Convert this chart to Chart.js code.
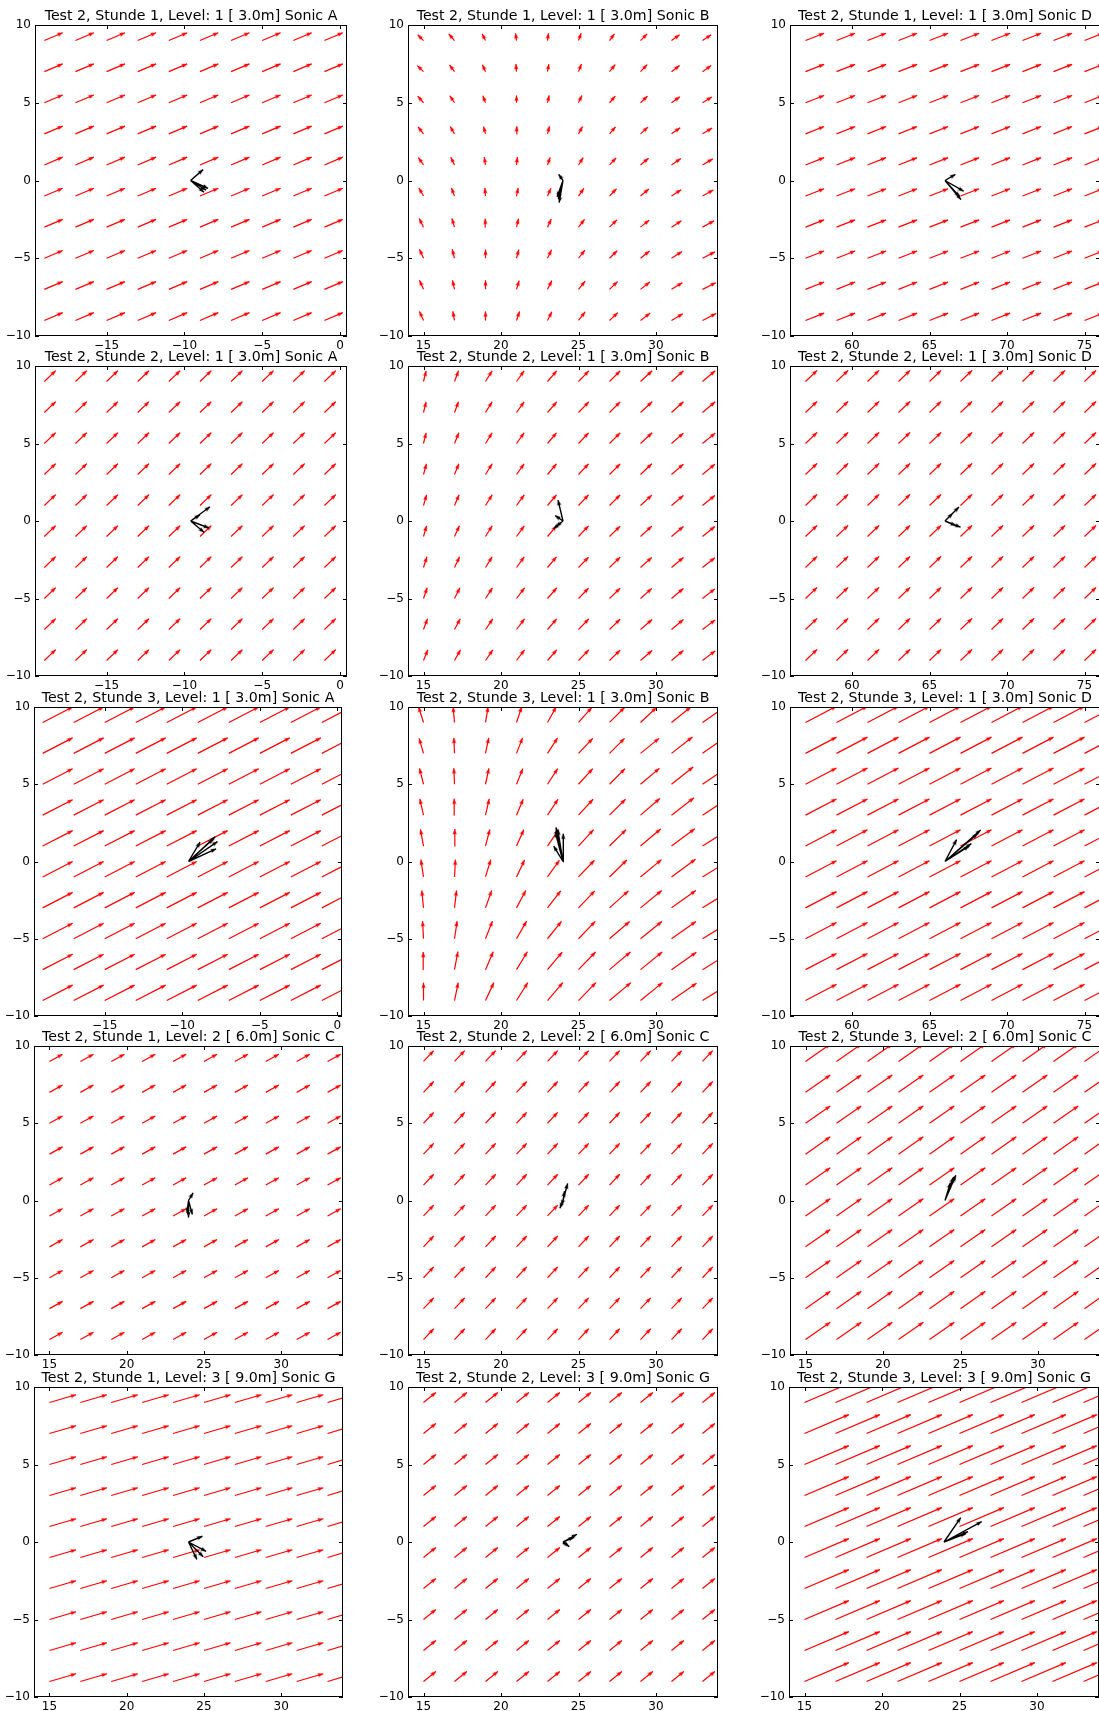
<!DOCTYPE html>
<html>
<head>
<meta charset="utf-8">
<title>Test 2 - Windfeld Sonics</title>
<script src="https://cdn.jsdelivr.net/npm/chart.js@4.4.1/dist/chart.umd.min.js"></script>
<style>
  html, body { margin: 0; padding: 0; background: #fff; overflow: hidden; width: 1099px; height: 1711px; }
  .panel { position: absolute; }
</style>
</head>
<body>
<script>
// titles, row by row
const titles = [
  'Test 2, Stunde 1, Level: 1 [ 3.0m] Sonic A', 'Test 2, Stunde 1, Level: 1 [ 3.0m] Sonic B', 'Test 2, Stunde 1, Level: 1 [ 3.0m] Sonic D',
  'Test 2, Stunde 2, Level: 1 [ 3.0m] Sonic A', 'Test 2, Stunde 2, Level: 1 [ 3.0m] Sonic B', 'Test 2, Stunde 2, Level: 1 [ 3.0m] Sonic D',
  'Test 2, Stunde 3, Level: 1 [ 3.0m] Sonic A', 'Test 2, Stunde 3, Level: 1 [ 3.0m] Sonic B', 'Test 2, Stunde 3, Level: 1 [ 3.0m] Sonic D',
  'Test 2, Stunde 1, Level: 2 [ 6.0m] Sonic C', 'Test 2, Stunde 2, Level: 2 [ 6.0m] Sonic C', 'Test 2, Stunde 3, Level: 2 [ 6.0m] Sonic C',
  'Test 2, Stunde 1, Level: 3 [ 9.0m] Sonic G', 'Test 2, Stunde 2, Level: 3 [ 9.0m] Sonic G', 'Test 2, Stunde 3, Level: 3 [ 9.0m] Sonic G'
];

// tick labels
const ticksY = [-10, -5, 0, 5, 10];
const ticksA = [-15, -10, -5, 0];
const ticksB = [15, 20, 25, 30];
const ticksD = [60, 65, 70, 75];

// grid points of the red field
const gridY = [-9, -7, -5, -3, -1, 1, 3, 5, 7, 9];
const gridXA = [-19, -17, -15, -13, -11, -9, -7, -5, -3, -1];
const gridXB = [15, 17, 19, 21, 23, 25, 27, 29, 31, 33];
const gridXD = [57, 59, 61, 63, 65, 67, 69, 71, 73, 75];

// sonic positions (x, at y = 0)
const sonicXA = -9.6;
const sonicXB = 24;
const sonicXD = 66;

// uniform red fields, Stunde 1..3
const fieldU_A = [1.18, 0.73, 1.93];
const fieldV_A = [0.50, 0.70, 1.00];
const fieldU_D = [1.20, 0.75, 2.00];
const fieldV_D = [0.47, 0.72, 1.05];
const fieldU_C = [0.85, 0.66, 1.60];
const fieldV_C = [0.47, 0.70, 1.12];
const fieldU_G = [1.72, 0.80, 2.86];
const fieldV_G = [0.50, 0.65, 1.22];

// Sonic B fields, one row per grid y (from -9 up to 9)
const fieldU_B1 = [
  [-0.26, -0.11, 0.00, 0.20, 0.28, 0.43, 0.54, 0.62, 0.73, 0.88],
  [-0.26, -0.13, 0.00, 0.17, 0.28, 0.43, 0.52, 0.60, 0.70, 0.86],
  [-0.26, -0.15, 0.00, 0.15, 0.26, 0.41, 0.50, 0.58, 0.68, 0.80],
  [-0.28, -0.17, -0.02, 0.13, 0.24, 0.39, 0.48, 0.56, 0.64, 0.75],
  [-0.30, -0.20, -0.04, 0.11, 0.22, 0.35, 0.45, 0.54, 0.62, 0.70],
  [-0.33, -0.24, -0.08, 0.06, 0.17, 0.30, 0.43, 0.52, 0.60, 0.66],
  [-0.35, -0.28, -0.13, 0.02, 0.13, 0.26, 0.39, 0.48, 0.56, 0.62],
  [-0.37, -0.30, -0.17, 0.00, 0.11, 0.22, 0.37, 0.45, 0.54, 0.60],
  [-0.40, -0.32, -0.20, -0.04, 0.09, 0.19, 0.37, 0.43, 0.52, 0.56],
  [-0.37, -0.37, -0.22, -0.06, 0.06, 0.17, 0.32, 0.43, 0.52, 0.56]
];
const fieldV_B1 = [
  [0.58, 0.58, 0.58, 0.58, 0.56, 0.55, 0.50, 0.47, 0.43, 0.45],
  [0.58, 0.58, 0.58, 0.56, 0.56, 0.53, 0.50, 0.47, 0.43, 0.43],
  [0.58, 0.58, 0.56, 0.56, 0.54, 0.52, 0.49, 0.47, 0.43, 0.41],
  [0.56, 0.56, 0.54, 0.54, 0.52, 0.50, 0.47, 0.45, 0.41, 0.41],
  [0.52, 0.52, 0.52, 0.52, 0.50, 0.49, 0.47, 0.45, 0.41, 0.39],
  [0.47, 0.49, 0.50, 0.50, 0.49, 0.47, 0.45, 0.43, 0.41, 0.39],
  [0.45, 0.47, 0.47, 0.49, 0.49, 0.47, 0.45, 0.43, 0.39, 0.37],
  [0.43, 0.45, 0.45, 0.47, 0.47, 0.47, 0.43, 0.43, 0.39, 0.37],
  [0.39, 0.43, 0.45, 0.49, 0.49, 0.49, 0.45, 0.45, 0.39, 0.39],
  [0.37, 0.43, 0.43, 0.47, 0.47, 0.47, 0.43, 0.43, 0.37, 0.37]
];
const fieldU_B2 = [
  [0.28, 0.39, 0.47, 0.52, 0.60, 0.67, 0.69, 0.75, 0.77, 0.82],
  [0.26, 0.37, 0.47, 0.52, 0.60, 0.67, 0.69, 0.75, 0.77, 0.82],
  [0.24, 0.35, 0.45, 0.52, 0.60, 0.65, 0.69, 0.73, 0.77, 0.80],
  [0.22, 0.33, 0.43, 0.50, 0.58, 0.65, 0.69, 0.73, 0.77, 0.80],
  [0.20, 0.32, 0.43, 0.50, 0.58, 0.65, 0.69, 0.73, 0.77, 0.80],
  [0.20, 0.30, 0.43, 0.50, 0.58, 0.65, 0.69, 0.73, 0.77, 0.80],
  [0.19, 0.28, 0.43, 0.49, 0.58, 0.65, 0.69, 0.73, 0.77, 0.80],
  [0.17, 0.28, 0.43, 0.49, 0.58, 0.65, 0.69, 0.75, 0.77, 0.82],
  [0.17, 0.26, 0.43, 0.49, 0.60, 0.67, 0.69, 0.75, 0.77, 0.82],
  [0.17, 0.26, 0.43, 0.49, 0.60, 0.67, 0.69, 0.75, 0.77, 0.82]
];
const fieldV_B2 = [
  [0.69, 0.69, 0.69, 0.69, 0.69, 0.69, 0.67, 0.65, 0.65, 0.62],
  [0.69, 0.69, 0.69, 0.69, 0.69, 0.69, 0.67, 0.65, 0.65, 0.62],
  [0.69, 0.69, 0.69, 0.69, 0.69, 0.67, 0.67, 0.65, 0.65, 0.62],
  [0.69, 0.69, 0.69, 0.69, 0.69, 0.67, 0.67, 0.65, 0.65, 0.63],
  [0.69, 0.69, 0.69, 0.69, 0.69, 0.69, 0.67, 0.67, 0.65, 0.65],
  [0.69, 0.69, 0.69, 0.69, 0.69, 0.69, 0.69, 0.67, 0.65, 0.65],
  [0.69, 0.69, 0.69, 0.69, 0.69, 0.69, 0.69, 0.69, 0.67, 0.67],
  [0.69, 0.69, 0.69, 0.69, 0.69, 0.69, 0.69, 0.69, 0.67, 0.67],
  [0.69, 0.69, 0.69, 0.69, 0.69, 0.69, 0.69, 0.69, 0.69, 0.69],
  [0.69, 0.69, 0.69, 0.69, 0.69, 0.69, 0.69, 0.69, 0.69, 0.69]
];
const fieldU_B3 = [
  [0.00, 0.24, 0.54, 0.73, 0.99, 1.12, 1.38, 1.42, 1.61, 1.70],
  [-0.02, 0.22, 0.50, 0.70, 0.95, 1.10, 1.35, 1.40, 1.60, 1.70],
  [-0.06, 0.17, 0.45, 0.65, 0.90, 1.08, 1.30, 1.38, 1.58, 1.70],
  [-0.11, 0.13, 0.40, 0.60, 0.85, 1.05, 1.22, 1.37, 1.57, 1.70],
  [-0.17, 0.06, 0.34, 0.52, 0.77, 1.03, 1.12, 1.35, 1.55, 1.70],
  [-0.20, 0.02, 0.28, 0.47, 0.72, 0.97, 1.07, 1.30, 1.50, 1.65],
  [-0.24, -0.02, 0.24, 0.43, 0.68, 0.94, 1.03, 1.25, 1.45, 1.60],
  [-0.26, -0.04, 0.22, 0.41, 0.66, 0.92, 1.00, 1.22, 1.40, 1.55],
  [-0.28, -0.04, 0.21, 0.39, 0.65, 0.92, 0.97, 1.20, 1.35, 1.50],
  [-0.32, -0.09, 0.17, 0.34, 0.56, 0.86, 0.97, 1.03, 1.25, 1.45]
];
const fieldV_B3 = [
  [1.16, 1.16, 1.16, 1.16, 1.16, 1.16, 1.16, 1.16, 1.12, 1.05],
  [1.14, 1.16, 1.16, 1.16, 1.14, 1.14, 1.14, 1.14, 1.12, 1.05],
  [1.14, 1.14, 1.14, 1.14, 1.12, 1.12, 1.12, 1.12, 1.12, 1.05],
  [1.12, 1.12, 1.12, 1.12, 1.10, 1.10, 1.10, 1.12, 1.12, 1.05],
  [1.12, 1.12, 1.12, 1.10, 1.08, 1.08, 1.10, 1.12, 1.15, 1.05],
  [1.08, 1.10, 1.08, 1.06, 1.06, 1.06, 1.06, 1.10, 1.12, 1.05],
  [1.05, 1.06, 1.05, 1.03, 1.03, 1.03, 1.03, 1.08, 1.12, 1.05],
  [1.03, 1.03, 1.03, 1.01, 1.01, 1.01, 1.01, 1.03, 1.12, 1.05],
  [0.97, 1.00, 1.00, 1.00, 1.00, 0.97, 0.97, 0.97, 1.06, 1.05],
  [1.01, 1.01, 1.01, 1.01, 1.01, 0.97, 0.97, 0.97, 1.00, 1.00]
];

// measured wind vectors at the sonic [u, v] (black)
const sonicA1 = [[0.80, 0.70], [1.12, -0.50], [0.86, -0.75], [1.00, -0.62]];
const sonicB1 = [[-0.28, 0.40], [-0.25, -1.42], [-0.38, -1.05], [-0.30, -1.20]];
const sonicD1 = [[0.67, 0.39], [1.20, -0.69], [1.03, -1.23], [0.95, -1.05]];
const sonicA2 = [[1.25, 0.92], [1.18, -0.45], [0.86, -0.73], [0.60, 0.40]];
const sonicB2 = [[-0.32, 1.35], [-0.50, 0.35], [-0.60, -0.50], [-0.45, -0.35]];
const sonicD2 = [[0.90, 0.90], [1.00, -0.40], [0.70, -0.30], [0.50, 0.50]];
const sonicA3 = [[1.72, 1.60], [1.87, 1.29], [1.78, 0.82], [0.75, 1.25], [1.60, 1.45]];
const sonicB3 = [[-0.45, 2.20], [-0.34, 2.06], [0.02, 1.80], [-0.60, 1.00], [-0.50, 1.90]];
const sonicD3 = [[2.30, 2.04], [1.70, 1.16], [0.75, 1.42], [1.55, 0.99], [2.10, 1.80]];
const sonicC1 = [[0.30, 0.50], [0.00, -1.10], [0.25, -0.90], [-0.10, -0.80]];
const sonicC2 = [[0.30, 1.10], [0.10, 0.60], [-0.20, -0.50], [-0.10, -0.30]];
const sonicC3 = [[0.70, 1.63], [0.55, 1.50], [0.35, 1.15], [0.62, 1.55]];
const sonicG1 = [[0.90, 0.37], [1.14, -0.60], [0.54, -1.12], [0.95, -0.95]];
const sonicG2 = [[0.90, 0.50], [0.70, 0.30], [0.40, -0.30], [0.30, -0.20]];
const sonicG3 = [[2.43, 1.31], [1.55, 0.67], [1.08, 1.57], [1.40, 0.55]];

// which data goes in which panel
const panels = [
  { gx: gridXA, tx: ticksA, u: fieldU_A[0], v: fieldV_A[0], sx: sonicXA, black: sonicA1 },
  { gx: gridXB, tx: ticksB, u: fieldU_B1, v: fieldV_B1, sx: sonicXB, black: sonicB1 },
  { gx: gridXD, tx: ticksD, u: fieldU_D[0], v: fieldV_D[0], sx: sonicXD, black: sonicD1 },
  { gx: gridXA, tx: ticksA, u: fieldU_A[1], v: fieldV_A[1], sx: sonicXA, black: sonicA2 },
  { gx: gridXB, tx: ticksB, u: fieldU_B2, v: fieldV_B2, sx: sonicXB, black: sonicB2 },
  { gx: gridXD, tx: ticksD, u: fieldU_D[1], v: fieldV_D[1], sx: sonicXD, black: sonicD2 },
  { gx: gridXA, tx: ticksA, u: fieldU_A[2], v: fieldV_A[2], sx: sonicXA, black: sonicA3 },
  { gx: gridXB, tx: ticksB, u: fieldU_B3, v: fieldV_B3, sx: sonicXB, black: sonicB3 },
  { gx: gridXD, tx: ticksD, u: fieldU_D[2], v: fieldV_D[2], sx: sonicXD, black: sonicD3 },
  { gx: gridXB, tx: ticksB, u: fieldU_C[0], v: fieldV_C[0], sx: sonicXB, black: sonicC1 },
  { gx: gridXB, tx: ticksB, u: fieldU_C[1], v: fieldV_C[1], sx: sonicXB, black: sonicC2 },
  { gx: gridXB, tx: ticksB, u: fieldU_C[2], v: fieldV_C[2], sx: sonicXB, black: sonicC3 },
  { gx: gridXB, tx: ticksB, u: fieldU_G[0], v: fieldV_G[0], sx: sonicXB, black: sonicG1 },
  { gx: gridXB, tx: ticksB, u: fieldU_G[1], v: fieldV_G[1], sx: sonicXB, black: sonicG2 },
  { gx: gridXB, tx: ticksB, u: fieldU_G[2], v: fieldV_G[2], sx: sonicXB, black: sonicG3 }
];

// plot boxes on the page: left, top, width, height, x min, x max
const boxes = [
  [35, 25, 312, 311, -19.6, 0.45], [408, 25, 310, 311, 14, 34], [790, 25, 310, 311, 56, 76],
  [35, 366, 312, 310, -19.6, 0.45], [408, 366, 310, 310, 14, 34], [790, 366, 310, 310, 56, 76],
  [34, 707, 308, 309, -19.56, 0.3], [408, 707, 310, 309, 14, 34], [790, 707, 310, 309, 56, 76],
  [34, 1046, 309, 309, 14, 34], [408, 1046, 310, 309, 14, 34], [790, 1046, 310, 309, 14, 34],
  [34, 1387, 309, 310, 14, 34], [408, 1387, 310, 310, 14, 34], [789, 1387, 310, 310, 14, 34]
];

const PAD_L = 45, PAD_T = 24, PAD_R = 8, PAD_B = 22;
const FONT = '"DejaVu Sans", sans-serif';
Chart.defaults.font.family = FONT;

function makeHead(color) {
  // arrow head with the tip in the middle of the image
  const c = document.createElement('canvas');
  c.width = 9;
  c.height = 16;
  const g = c.getContext('2d');
  g.fillStyle = color;
  g.beginPath();
  g.moveTo(4.5, 8);
  g.lineTo(6.6, 13.5);
  g.lineTo(4.5, 12.8);
  g.lineTo(2.4, 13.5);
  g.closePath();
  g.fill();
  return c;
}
const headRed = makeHead('#ff0000');
const headBlack = makeHead('#000000');

function fieldPoints(xs, ys, u, v) {
  let pts = [];
  ys.forEach((y, i) => {
    xs.forEach((x, j) => {
      let du = Array.isArray(u) ? u[i][j] : u;
      let dv = Array.isArray(v) ? v[i][j] : v;
      pts.push({x: x, y: y});
      pts.push({x: x + du, y: y + dv, u: du, v: dv, head: true});
      pts.push({x: null, y: null});
    });
  });
  return pts;
}

function sonicPoints(x0, vecs) {
  let pts = [];
  for (let i = 0; i < vecs.length; i++) {
    pts.push({x: x0, y: 0});
    pts.push({x: x0 + vecs[i][0], y: vecs[i][1], u: vecs[i][0], v: vecs[i][1], head: true});
    pts.push({x: null, y: null});
  }
  return pts;
}

function headAngle(c) {
  let r = c.raw;
  if (!r || !r.head) return 0;
  let sx = c.chart.scales.x, sy = c.chart.scales.y;
  let dx = sx.getPixelForValue(r.x) - sx.getPixelForValue(r.x - r.u);
  let dy = sy.getPixelForValue(r.y) - sy.getPixelForValue(r.y - r.v);
  return Math.atan2(dx, -dy) * 180 / Math.PI;
}

const minus = (val) => String(val).replace('-', '\u2212');

// inward ticks on all four sides, box, and title above the axes
const axesFrame = {
  id: 'axesFrame',
  afterDatasetsDraw(chart, args, opts) {
    const ctx = chart.ctx, a = chart.chartArea;
    const x = chart.scales.x, y = chart.scales.y;
    ctx.save();
    ctx.strokeStyle = '#000';
    ctx.lineWidth = 1;
    ctx.beginPath();
    x.ticks.forEach(t => {
      let px = Math.round(x.getPixelForValue(t.value)) + 0.5;
      ctx.moveTo(px, a.bottom); ctx.lineTo(px, a.bottom - 4);
      ctx.moveTo(px, a.top); ctx.lineTo(px, a.top + 4);
    });
    y.ticks.forEach(t => {
      let py = Math.round(y.getPixelForValue(t.value)) + 0.5;
      ctx.moveTo(a.left, py); ctx.lineTo(a.left + 4, py);
      ctx.moveTo(a.right, py); ctx.lineTo(a.right - 4, py);
    });
    ctx.stroke();
    ctx.strokeRect(a.left + 0.5, a.top + 0.5, a.right - a.left - 1, a.bottom - a.top - 1);
    ctx.fillStyle = '#000';
    ctx.font = '14.2px ' + FONT;
    ctx.textAlign = 'center';
    ctx.textBaseline = 'alphabetic';
    ctx.fillText(opts.text, (a.left + a.right) / 2, a.top - 5);
    ctx.restore();
  }
};

panels.forEach((p, k) => {
  const [left, top, w, h, xmin, xmax] = boxes[k];
  let div = document.createElement('div');
  div.className = 'panel';
  div.style.left = (left - PAD_L) + 'px';
  div.style.top = (top - PAD_T) + 'px';
  let cv = document.createElement('canvas');
  cv.width = w + PAD_L + PAD_R;
  cv.height = h + PAD_T + PAD_B;
  cv.style.width = cv.width + 'px';
  cv.style.height = cv.height + 'px';
  div.appendChild(cv);
  document.body.appendChild(div);

  const common = {
    showLine: true, spanGaps: false, clip: 0, tension: 0, borderCapStyle: 'butt',
    pointRadius: c => (c.raw && c.raw.head ? 1 : 0),
    pointBorderWidth: 0,
    rotation: headAngle
  };

  new Chart(cv, {
    type: 'scatter',
    data: {
      datasets: [
        Object.assign({}, common, {
          label: 'Sonic',
          data: sonicPoints(p.sx, p.black),
          borderColor: '#000', borderWidth: 1.4, order: 0,
          pointStyle: c => (c.raw && c.raw.head ? headBlack : 'circle')
        }),
        Object.assign({}, common, {
          label: 'Feld',
          data: fieldPoints(p.gx, gridY, p.u, p.v),
          borderColor: '#ff0000', borderWidth: 1.2, order: 1,
          pointStyle: c => (c.raw && c.raw.head ? headRed : 'circle')
        })
      ]
    },
    options: {
      responsive: false,
      animation: false,
      events: [],
      layout: { padding: { top: PAD_T, right: PAD_R, left: 0, bottom: 0 } },
      plugins: {
        legend: { display: false },
        tooltip: { enabled: false },
        axesFrame: { text: titles[k] }
      },
      scales: {
        x: {
          type: 'linear', min: xmin, max: xmax,
          grid: { display: false, drawTicks: false },
          border: { display: false },
          afterBuildTicks: s => { s.ticks = p.tx.map(t => ({value: t})); },
          afterFit: s => { s.height = PAD_B; },
          ticks: { padding: 3, color: '#000', font: { size: 12 }, callback: minus, maxRotation: 0 }
        },
        y: {
          type: 'linear', min: -10, max: 10,
          grid: { display: false, drawTicks: false },
          border: { display: false },
          afterBuildTicks: s => { s.ticks = ticksY.map(t => ({value: t})); },
          afterFit: s => { s.width = PAD_L; },
          ticks: { padding: 4, color: '#000', font: { size: 12 }, callback: minus }
        }
      }
    },
    plugins: [axesFrame]
  });
});
</script>
</body>
</html>
